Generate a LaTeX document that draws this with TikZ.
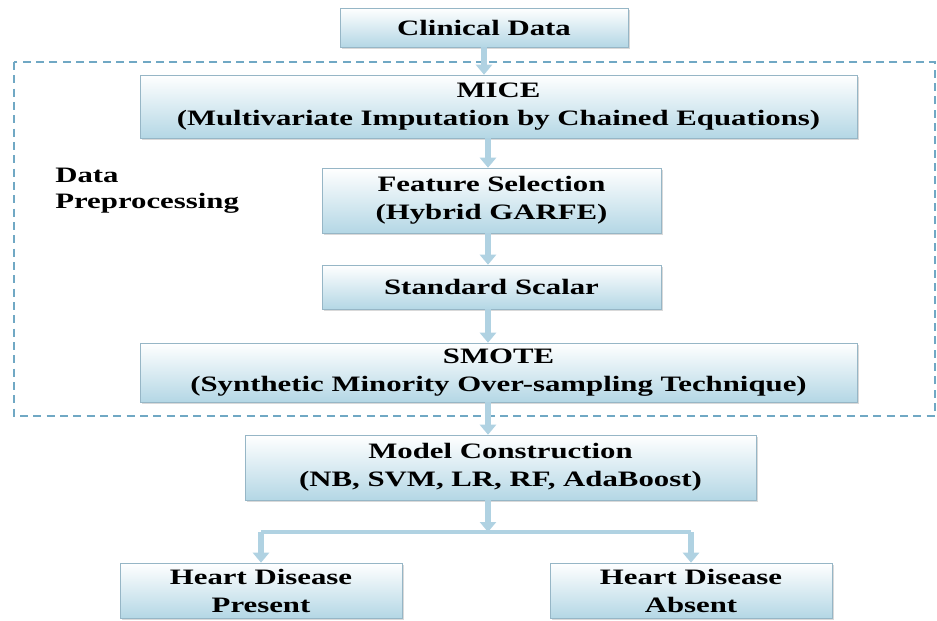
\documentclass[tikz,border=0pt]{standalone}
\usepackage{fontspec}
\setmainfont{Liberation Serif}[FakeStretch=1.4]
\usepackage{tikz}
\usetikzlibrary{arrows.meta,shadows}

\definecolor{boxedge}{RGB}{150,182,198}
\definecolor{boxfill}{RGB}{180,215,229}
\definecolor{flowblue}{RGB}{176,210,226}
\definecolor{dashblue}{RGB}{112,168,196}

\begin{document}
\begin{tikzpicture}[x=0.75pt,y=-0.75pt,>={Triangle[width=12pt,length=7.5pt]},font=\fontsize{16.5}{21}\selectfont\bfseries]
  \tikzstyle{stage}=[draw=boxedge,thin,top color=white,bottom color=boxfill,align=center,inner sep=0pt,drop shadow={shadow xshift=1.2pt,shadow yshift=-1.2pt,opacity=0.3}]
  \tikzstyle{flow}=[->,draw=flowblue,line width=5pt]
  \tikzstyle{branch}=[draw=flowblue,line width=3pt]

  \useasboundingbox (0,0) rectangle (937,620);
  \draw[dashblue,dash pattern=on 6pt off 4pt,line width=0.8pt] (14,62) rectangle (935,416);

  \node[stage,minimum width=216pt,minimum height=29.25pt] at (484,27.5) (clinical) {Clinical Data};
  \node[stage,minimum width=537.75pt,minimum height=47.25pt] at (498.5,106.5) (mice) {MICE\\(Multivariate Imputation by Chained Equations)};
  \node[stage,minimum width=254.25pt,minimum height=48.75pt] at (491.5,200.5) (feature) {Feature Selection\\(Hybrid GARFE)};
  \node[stage,minimum width=254.25pt,minimum height=33pt] at (491.5,287) (scalar) {Standard Scalar};
  \node[stage,minimum width=537.75pt,minimum height=44.25pt] at (498.5,372.5) (smote) {SMOTE\\(Synthetic Minority Over-sampling Technique)};
  \node[stage,minimum width=383.25pt,minimum height=48.75pt] at (500.5,467.5) (model) {Model Construction\\(NB, SVM, LR, RF, AdaBoost)};
  \node[stage,minimum width=211.5pt,minimum height=41.25pt] at (261,590.5) (present) {Heart Disease\\Present};
  \node[stage,minimum width=211.5pt,minimum height=41.25pt] at (691,590.5) (absent) {Heart Disease\\Absent};

  \node[anchor=north west,align=left,inner sep=0pt,font=\fontsize{16.5}{19}\selectfont\bfseries] at (55,168) (prep) {Data\\Preprocessing};

  \coordinate (fork) at (488,532);

  \draw[flow] (clinical.south) -- (clinical.south |- mice.north);
  \draw[flow] (mice.south -| fork) -- (feature.north -| fork);
  \draw[flow] (feature.south -| fork) -- (scalar.north -| fork);
  \draw[flow] (scalar.south -| fork) -- (smote.north -| fork);
  \draw[flow] (smote.south -| fork) -- (model.north -| fork);
  \draw[flow] (model.south -| fork) -- (fork);
  \draw[branch] (present.north |- fork) -- (absent.north |- fork);
  \draw[flow] (present.north |- fork) -- (present.north);
  \draw[flow] (absent.north |- fork) -- (absent.north);
\end{tikzpicture}
\end{document}
